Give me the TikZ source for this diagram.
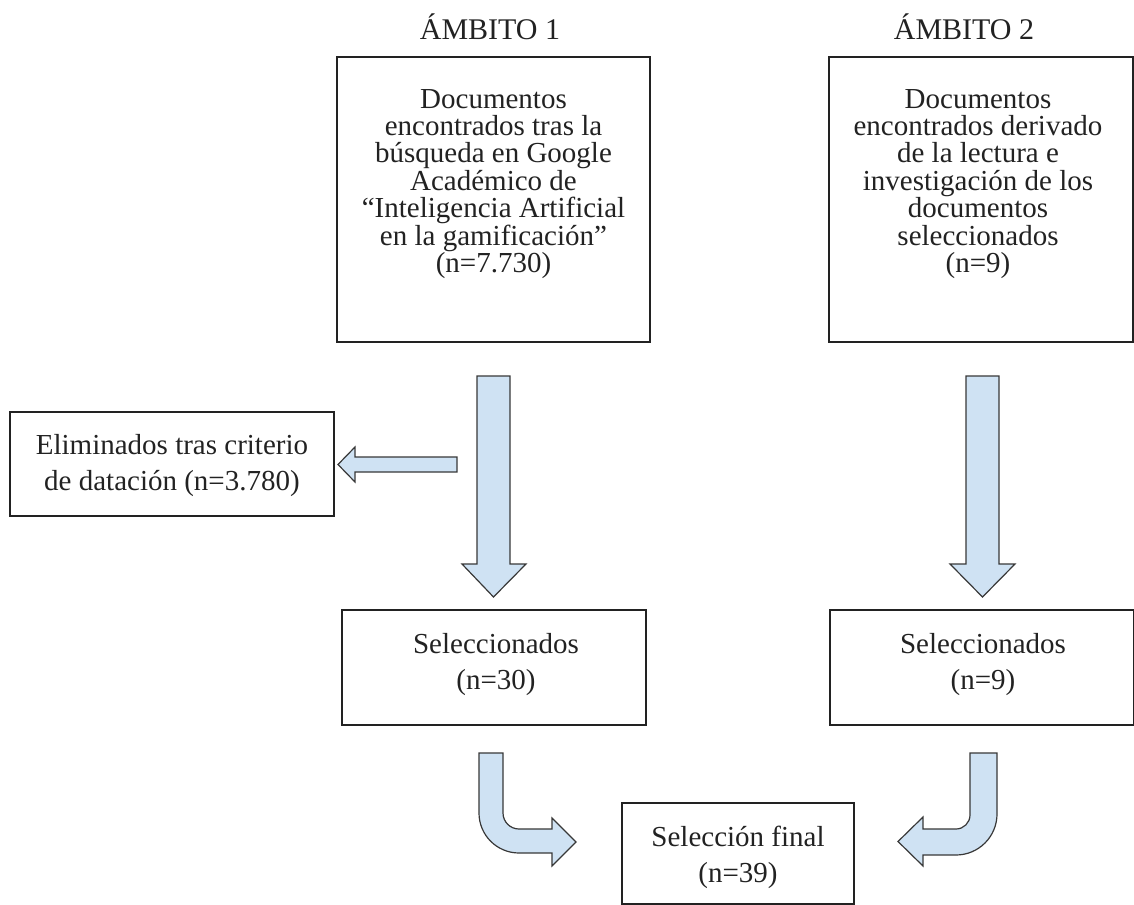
\documentclass[tikz,border=0pt]{standalone}
\usepackage{fontspec}
\setmainfont{Liberation Serif}
\definecolor{ablue}{HTML}{CFE2F3}
\definecolor{ink}{HTML}{222222}
\begin{document}
\begin{tikzpicture}[x=0.75pt,y=-0.75pt,
  box/.style={draw=ink, line width=1.2pt, inner sep=0pt},
  bigtxt/.style={align=center, text=ink, inner sep=0pt, font=\fontsize{21.75}{20.6}\selectfont},
  smalltxt/.style={align=center, text=ink, inner sep=0pt, font=\fontsize{21.75}{27}\selectfont},
  ttl/.style={text=ink, inner sep=0pt, font=\fontsize{22.5}{26}\selectfont},
  blk/.style={fill=ablue, draw=ink!90, line width=0.9pt, line join=miter}]
\useasboundingbox (0,0) rectangle (1134,905);

% titles
\node[ttl] (h1) at (490,27) {ÁMBITO 1};
\node[ttl] (h2) at (964,27) {ÁMBITO 2};

% boxes
\node[box, minimum width=234.75pt, minimum height=213.75pt] (b1) at (493.5,199.5) {};
\node[box, minimum width=228pt, minimum height=213.75pt] (b2) at (981,199.5) {};
\node[box, minimum width=243pt, minimum height=78pt] (el) at (172,464) {};
\node[box, minimum width=228pt, minimum height=86.25pt] (s1) at (494,667.5) {};
\node[box, minimum width=228pt, minimum height=86.25pt] (s2) at (982,667.5) {};
\node[box, minimum width=174pt, minimum height=75.75pt] (fin) at (738,853.5) {};

% texts
\node[bigtxt] (t1) at (493.5,184) {Documentos\\encontrados tras la\\búsqueda en Google\\Académico de\\“Inteligencia Artificial\\en la gamificación”\\(n=7.730)};
\node[bigtxt] (t2) at (978,184) {Documentos\\encontrados derivado\\de la lectura e\\investigación de los\\documentos\\seleccionados\\(n=9)};
\node[smalltxt] (tel) at (172,466) {Eliminados tras criterio\\de datación (n=3.780)};
\node[smalltxt] (ts1) at (496,665) {Seleccionados\\(n=30)};
\node[smalltxt] (ts2) at (983,665) {Seleccionados\\(n=9)};
\node[smalltxt] (tfin) at (738,857) {Selección final\\(n=39)};

% straight block arrows
\draw[blk] (477,376) -- (510,376) -- (510,564) -- (526,564) -- (493.5,597) -- (462,564) -- (477,564) -- cycle;
\draw[blk] (966,376) -- (999,376) -- (999,564) -- (1015,564) -- (982.5,597) -- (950,564) -- (966,564) -- cycle;
\draw[blk] (457,457) -- (457,472) -- (355,472) -- (355,482) -- (338,464.5) -- (355,447) -- (355,457) -- cycle;

% curved block arrows
\draw[blk] (479,753) -- (503,753) -- (503,813)
  .. controls (503,821.8) and (510.2,829) .. (519,829)
  -- (552,829) -- (552,818) -- (576,842) -- (552,866) -- (552,853) -- (519,853)
  .. controls (496.9,853) and (479,835.1) .. (479,813) -- cycle;
\draw[blk] (997,753) -- (970,753) -- (970,815)
  .. controls (970,822.7) and (963.7,829) .. (956,829)
  -- (923,829) -- (923,817) -- (898,841.5) -- (923,866) -- (923,855) -- (956,855)
  .. controls (978.6,855) and (997,836.6) .. (997,814) -- cycle;
\end{tikzpicture}
\end{document}
